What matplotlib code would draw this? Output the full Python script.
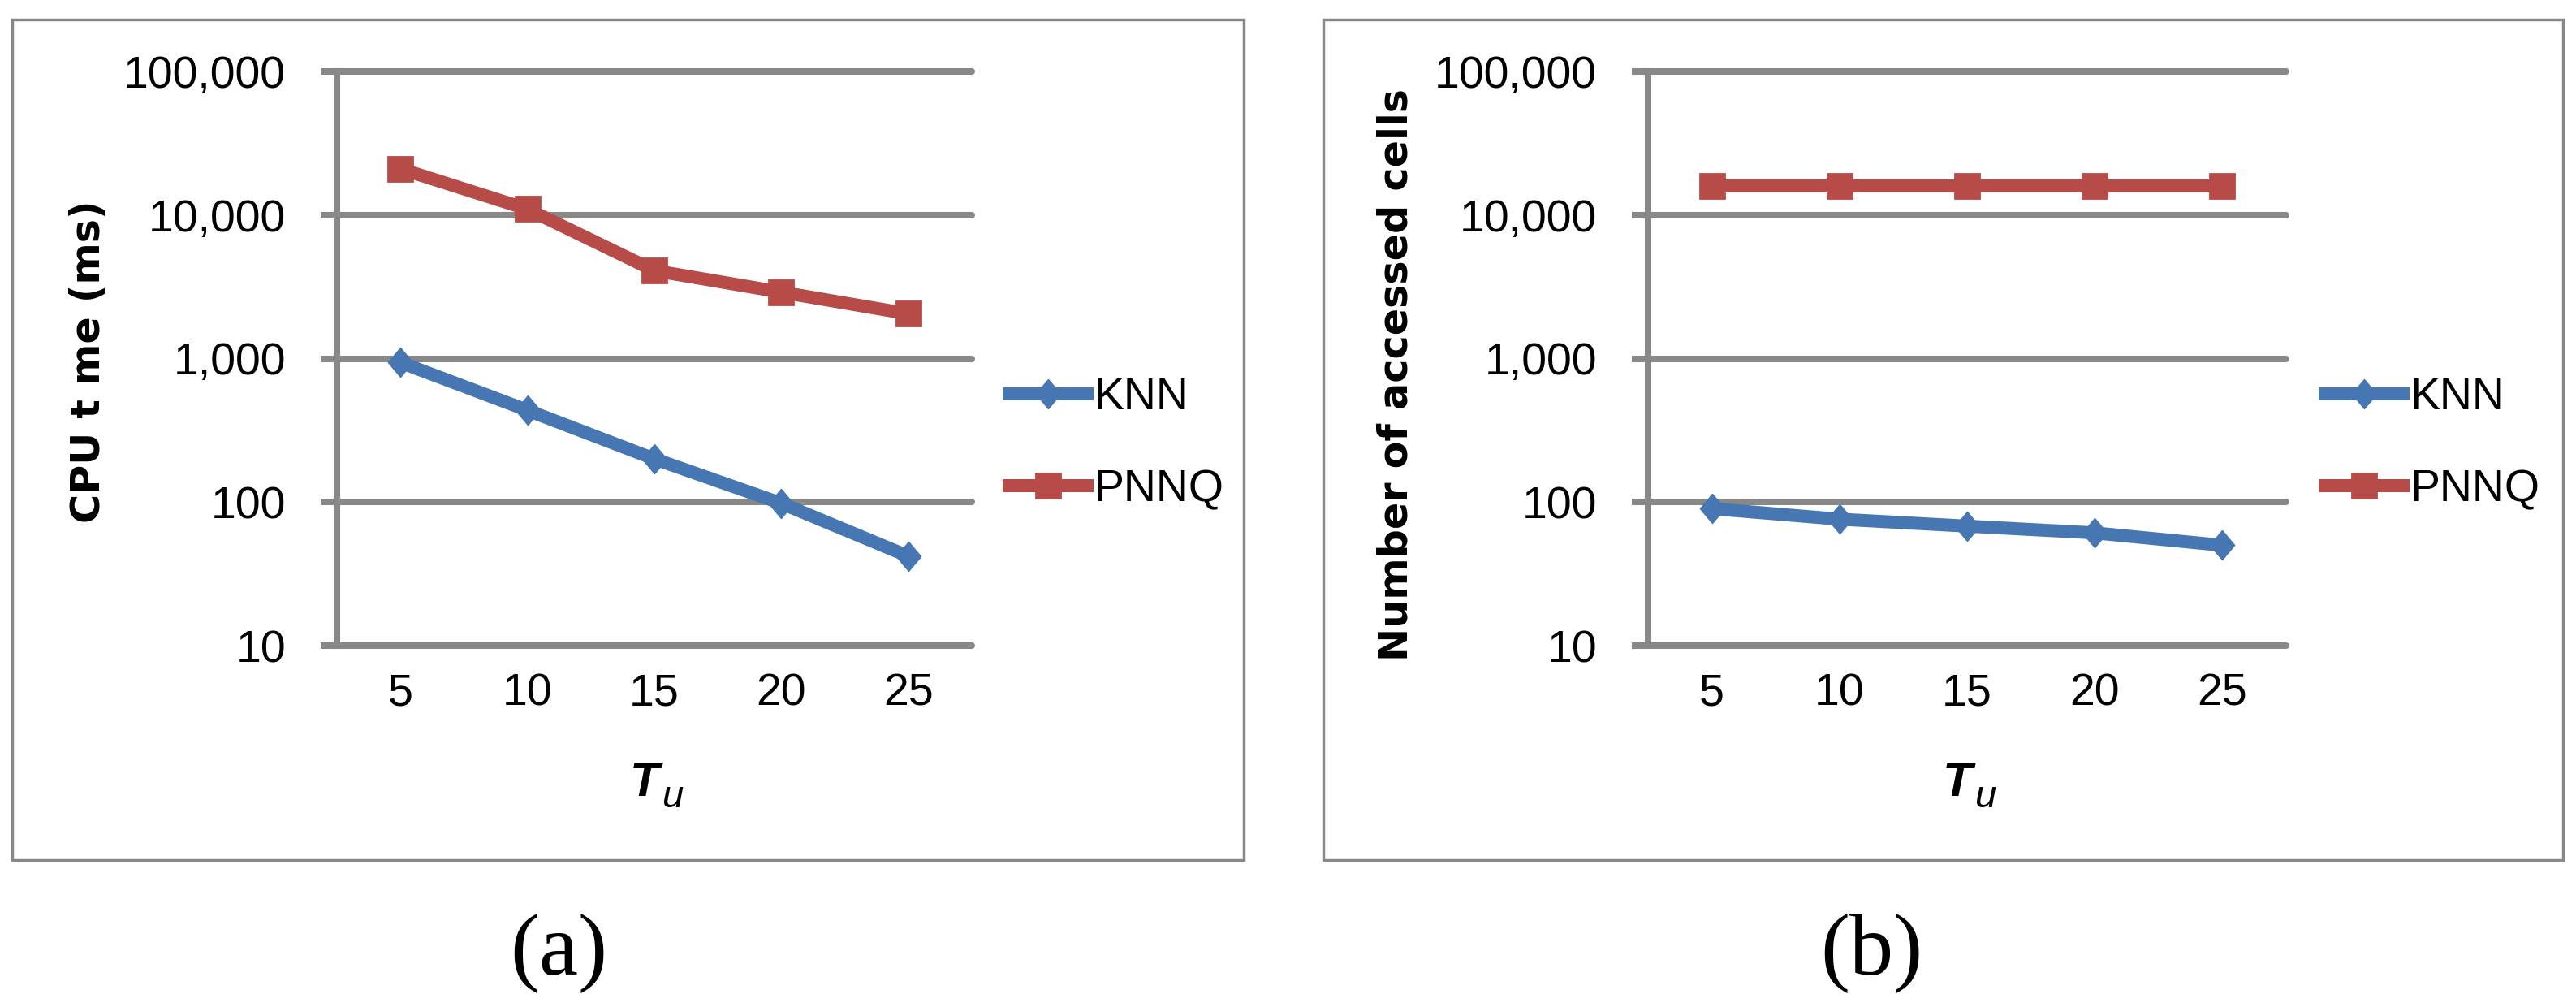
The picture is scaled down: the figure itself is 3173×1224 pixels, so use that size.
import matplotlib
matplotlib.use("Agg")
import matplotlib.pyplot as plt
import numpy as np
from matplotlib.patches import Rectangle
from matplotlib.ticker import FuncFormatter, FixedLocator, NullLocator

# data
t_u = ["5", "10", "15", "20", "25"]
cpu_knn = [940, 436, 200, 98, 42]
cpu_pnnq = [21000, 11000, 4100, 2900, 2050]
cells_knn = [90, 76, 68, 61, 50]
cells_pnnq = [16000, 16000, 16000, 16000, 16000]
y_ticks = [10, 100, 1000, 10000, 100000]

W, H = 3173, 1224
fig = plt.figure(figsize=(W / 100, H / 100), dpi=100)

tick_font = ["Liberation Sans", "DejaVu Sans"]
grey = "#888888"
blue = "#4677B2"
red = "#B64B48"
# Excel style diamond, a bit taller than wide
diamond = [(0, 1), (0.84, 0), (0, -1), (-0.84, 0), (0, 1)]


def px(x, y):
    # pixel position (from top left) to figure fraction
    return x / W, 1 - y / H


def draw_panel(left_px, right_px, knn, pnnq, ylabel, ylabel_pos, legend_px, letter, letter_px):
    x0, y0 = px(left_px, 795)
    x1, y1 = px(right_px, 88)
    ax = fig.add_axes([x0, y0, x1 - x0, y1 - y0])
    pos = np.arange(len(t_u)) + 0.5
    ax.plot(pos, knn, color=blue, linewidth=11.5, marker=diamond, markersize=26,
            markeredgewidth=1, markeredgecolor=blue, label="KNN", zorder=4, clip_on=False)
    ax.plot(pos, pnnq, color=red, linewidth=11.5, marker="s", markersize=22,
            markeredgewidth=2, markeredgecolor=red, label="PNNQ", zorder=4, clip_on=False)
    ax.set_yscale("log")
    ax.set_ylim(10, 100000)
    ax.set_xlim(0, len(t_u))
    ax.yaxis.set_major_locator(FixedLocator(y_ticks))
    ax.yaxis.set_minor_locator(NullLocator())
    ax.yaxis.set_major_formatter(FuncFormatter(lambda v, p: "{:,.0f}".format(v)))
    ax.set_xticks(pos)
    ax.set_xticklabels(t_u)

    ax.grid(axis="y", color=grey, linewidth=5.8, solid_capstyle="round", zorder=1)
    for line in ax.get_ygridlines():
        line.set_clip_on(False)
    for side in ["top", "right", "bottom"]:
        ax.spines[side].set_visible(False)
    ax.spines["left"].set_color(grey)
    ax.spines["left"].set_linewidth(5.8)
    ax.set_axisbelow(True)

    ax.tick_params(axis="y", length=14.4, width=5.8, color=grey, pad=31, labelsize=40)
    ax.tick_params(axis="x", length=0, pad=24, labelsize=40)
    for lab in ax.get_xticklabels() + ax.get_yticklabels():
        lab.set_family(tick_font)

    # rotated bold y label
    lx, ly = px(*ylabel_pos)
    fig.text(lx, ly, ylabel, rotation=90, ha="center", va="center",
             fontsize=35.5, fontweight="bold", family="DejaVu Sans")

    # x label T with subscript u
    xc = (left_px + right_px) / 2
    tx, ty = px(xc - 12, 980)
    fig.text(tx, ty, "T", ha="center", va="baseline", fontsize=43,
             fontweight="bold", style="italic", family=tick_font)
    ux, uy = px(xc + 9, 994)
    fig.text(ux, uy, "u", ha="left", va="baseline", fontsize=34,
             style="italic", family=tick_font)

    ax.legend(loc="center left", bbox_to_anchor=px(*legend_px),
              bbox_transform=fig.transFigure, frameon=False,
              prop={"family": tick_font, "size": 40}, handlelength=1.72,
              handletextpad=0.16, labelspacing=1.1, borderpad=0, borderaxespad=0)

    lp = px(*letter_px)
    fig.text(lp[0], lp[1], letter, ha="center", va="baseline",
             fontsize=78, family=["Liberation Serif", "DejaVu Serif"])
    return ax


# panel frames
for fx0, fx1 in [(15, 1532), (1630, 3157)]:
    bx0, by0 = px(fx0, 1059)
    bx1, by1 = px(fx1, 24)
    fig.patches.append(Rectangle((bx0, by0), bx1 - bx0, by1 - by0, transform=fig.transFigure,
                                 fill=False, edgecolor=grey, linewidth=2.5))

draw_panel(415, 1197, cpu_knn, cpu_pnnq, "CPU t me (ms)", (109, 445), (1243, 547), "(a)", (688, 1200))
draw_panel(2030, 2816, cells_knn, cells_pnnq, "Number of accessed cells", (1720, 461), (2864, 547),
           "(b)", (2305, 1200))

fig.savefig("out.png", dpi=100, facecolor="white")
